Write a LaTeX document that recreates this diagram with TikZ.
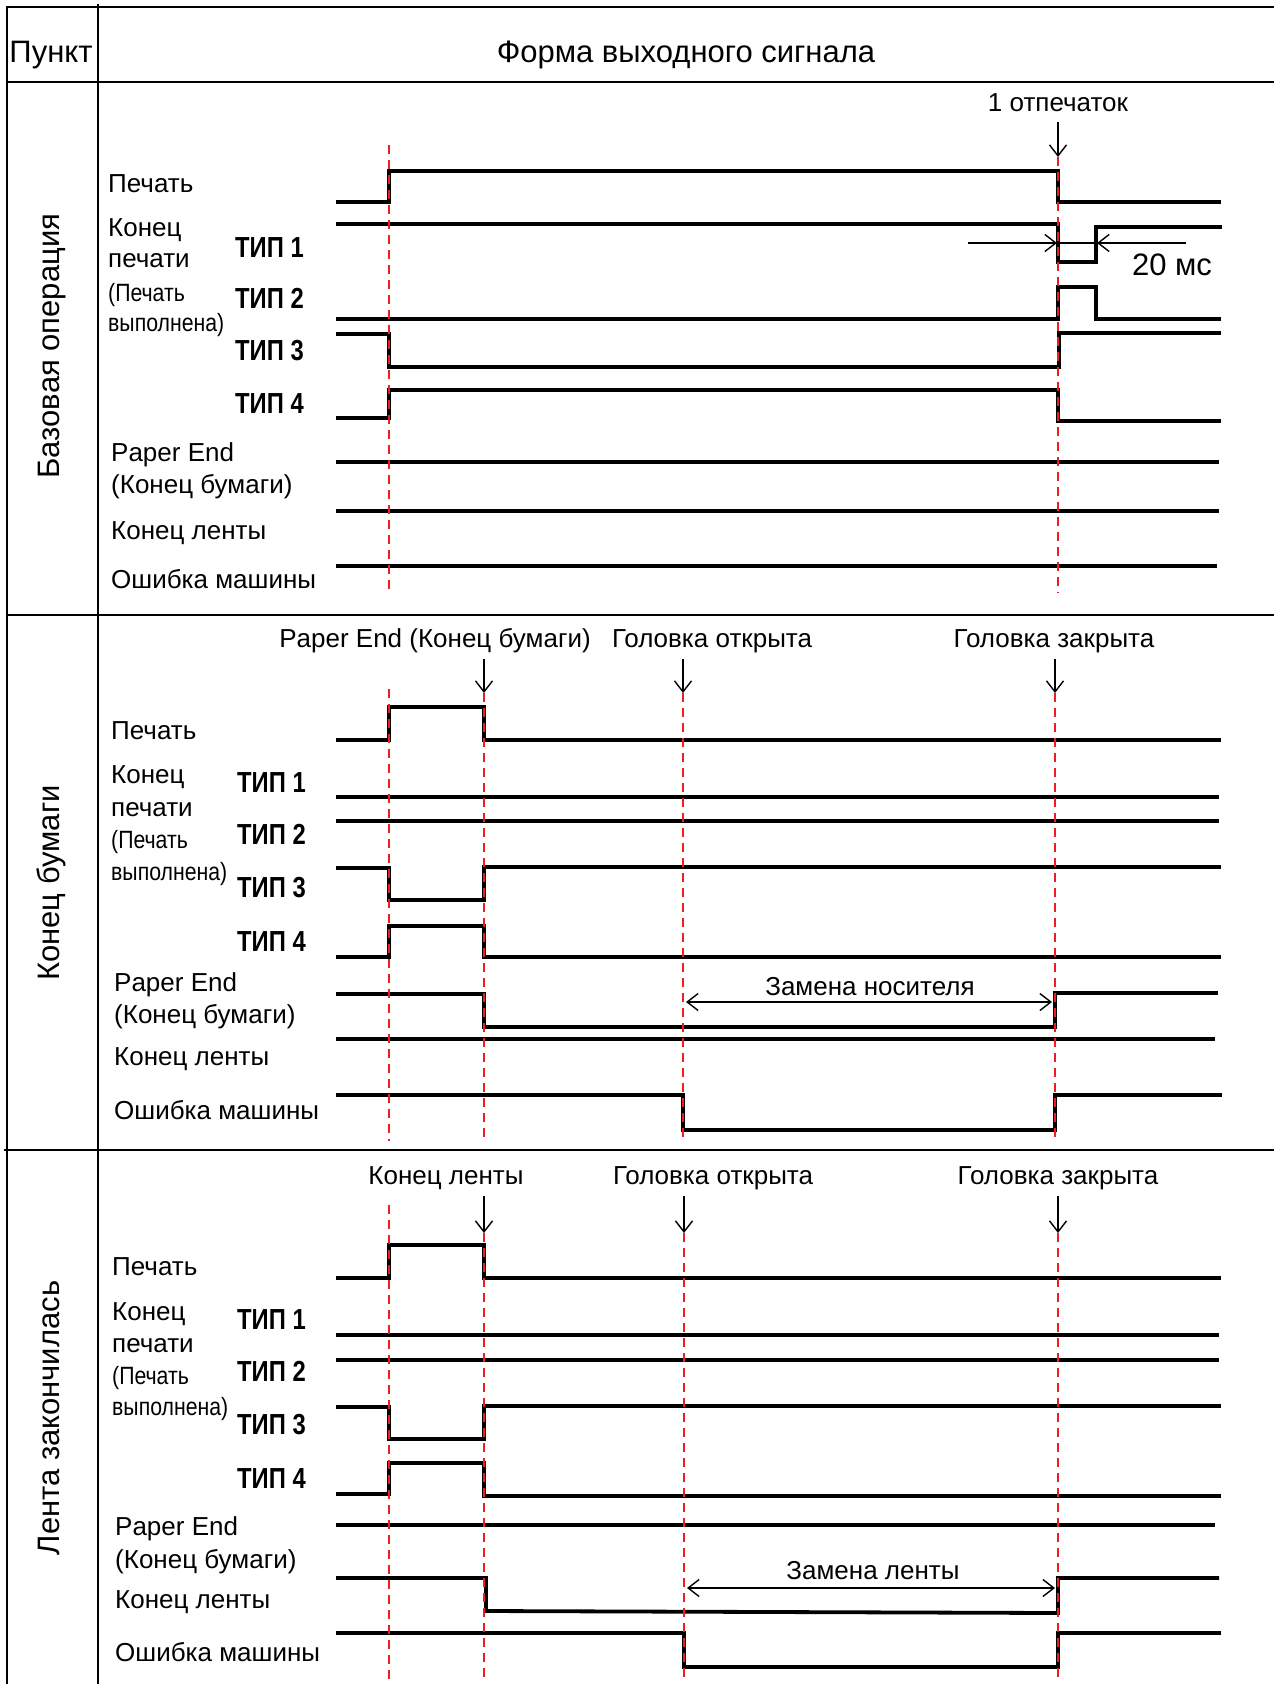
\documentclass[tikz,border=0pt]{standalone}
\usepackage{fontspec}
\setmainfont{Liberation Sans}
\newfontfamily\narrowf[FakeStretch=0.85]{Liberation Sans}
\newfontfamily\tipf[FakeStretch=0.82]{Liberation Sans}
\usetikzlibrary{arrows.meta}
\definecolor{dred}{HTML}{EE1C25}
\begin{document}
\begin{tikzpicture}[x=1pt,y=-1pt,
  frame/.style={line width=1.6pt},
  sig/.style={line width=3.8pt,line join=miter},
  redline/.style={draw=dred,line width=2pt,dash pattern=on 9pt off 6pt},
  ann/.style={line width=1.4pt,-{Straight Barb[length=11pt,width=17pt]}},
  annboth/.style={line width=1.4pt,{Straight Barb[length=11pt,width=17pt]}-{Straight Barb[length=11pt,width=17pt]}},
  lbl/.style={anchor=west,inner sep=0pt,text height=18.6pt,text depth=0pt,font=\fontsize{26}{30}\selectfont},
  nlbl/.style={anchor=west,inner sep=0pt,text height=18pt,text depth=0pt,font=\narrowf\fontsize{25}{30}\selectfont},
  tiplbl/.style={anchor=west,inner sep=0pt,text height=20.8pt,text depth=0pt,font=\tipf\bfseries\fontsize{29}{30}\selectfont},
  toplbl/.style={anchor=center,inner sep=0pt,text height=18.6pt,text depth=0pt,font=\fontsize{26}{30}\selectfont},
  bigtxt/.style={anchor=center,inner sep=0pt,text height=22pt,text depth=0pt,font=\fontsize{31}{34}\selectfont},
  sect/.style={bigtxt,rotate=90}
]
\useasboundingbox (0,0) rectangle (1274,1684);

% ---------- table frame ----------
\draw[frame] (7,1684) -- (7,7) -- (1274,7);
\draw[frame] (98,4) -- (98,1684);
\draw[frame] (7,82) -- (1274,82);
\draw[frame] (7,615) -- (1274,615);
\draw[frame] (4,1150) -- (1274,1150);

\node[bigtxt] (hItem) at (51,51) {Пункт};
\node[bigtxt] (hForm) at (686,51) {Форма выходного сигнала};

\node[sect] (s1) at (48,346) {Базовая операция};
\node[sect] (s2) at (48,883) {Конец бумаги};
\node[sect] (s3) at (48,1418) {Лента закончилась};

% ---------- section 1 labels ----------
\node[lbl] (a1) at (108,183) {Печать};
\node[lbl] (a2) at (108,227) {Конец};
\node[lbl] (a3) at (108,258) {печати};
\node[nlbl] (a4) at (108,292) {(Печать};
\node[nlbl] (a5) at (108,322) {выполнена)};
\node[tiplbl] (at1) at (235,247) {ТИП 1};
\node[tiplbl] (at2) at (235,298) {ТИП 2};
\node[tiplbl] (at3) at (235,350) {ТИП 3};
\node[tiplbl] (at4) at (235,403) {ТИП 4};
\node[lbl] (a6) at (111,452) {Paper End};
\node[lbl] (a7) at (111,484) {(Конец бумаги)};
\node[lbl] (a8) at (111,530) {Конец ленты};
\node[lbl] (a9) at (111,579) {Ошибка машины};

% ---------- section 2 labels ----------
\node[lbl] (b1) at (111,730) {Печать};
\node[lbl] (b2) at (111,774) {Конец};
\node[lbl] (b3) at (111,807) {печати};
\node[nlbl] (b4) at (111,839) {(Печать};
\node[nlbl] (b5) at (111,871) {выполнена)};
\node[tiplbl] (bt1) at (237,782) {ТИП 1};
\node[tiplbl] (bt2) at (237,834) {ТИП 2};
\node[tiplbl] (bt3) at (237,887) {ТИП 3};
\node[tiplbl] (bt4) at (237,941) {ТИП 4};
\node[lbl] (b6) at (114,982) {Paper End};
\node[lbl] (b7) at (114,1014) {(Конец бумаги)};
\node[lbl] (b8) at (114,1056) {Конец ленты};
\node[lbl] (b9) at (114,1110) {Ошибка машины};

% ---------- section 3 labels ----------
\node[lbl] (c1) at (112,1266) {Печать};
\node[lbl] (c2) at (112,1311) {Конец};
\node[lbl] (c3) at (112,1343) {печати};
\node[nlbl] (c4) at (112,1375) {(Печать};
\node[nlbl] (c5) at (112,1406) {выполнена)};
\node[tiplbl] (ct1) at (237,1319) {ТИП 1};
\node[tiplbl] (ct2) at (237,1371) {ТИП 2};
\node[tiplbl] (ct3) at (237,1424) {ТИП 3};
\node[tiplbl] (ct4) at (237,1478) {ТИП 4};
\node[lbl] (c6) at (115,1526) {Paper End};
\node[lbl] (c7) at (115,1559) {(Конец бумаги)};
\node[lbl] (c8) at (115,1599) {Конец ленты};
\node[lbl] (c9) at (115,1652) {Ошибка машины};

% ---------- section 1 signals ----------
\draw[sig] (336,202) -- (389,202) -- (389,171) -- (1058,171) -- (1058,202) -- (1221,202);
\draw[sig] (336,224) -- (1058,224) -- (1058,262) -- (1096,262) -- (1096,227) -- (1222,227);
\draw[sig] (336,319) -- (1058,319) -- (1058,287) -- (1096,287) -- (1096,319) -- (1221,319);
\draw[sig] (336,334) -- (389,334) -- (389,367) -- (1059,367) -- (1059,333) -- (1221,333);
\draw[sig] (336,418) -- (389,418) -- (389,390) -- (1058,390) -- (1058,421) -- (1221,421);
\draw[sig] (336,462) -- (1219,462);
\draw[sig] (336,511) -- (1219,511);
\draw[sig] (336,566) -- (1217,566);

% ---------- section 2 signals ----------
\draw[sig] (336,740) -- (389,740) -- (389,707) -- (484,707) -- (484,740) -- (1221,740);
\draw[sig] (336,797) -- (1219,797);
\draw[sig] (336,821) -- (1219,821);
\draw[sig] (336,868) -- (389,868) -- (389,900) -- (484,900) -- (484,867) -- (1221,867);
\draw[sig] (336,957) -- (389,957) -- (389,926) -- (484,926) -- (484,957) -- (1221,957);
\draw[sig] (336,994) -- (484,994) -- (484,1027) -- (1055,1027) -- (1055,993) -- (1218,993);
\draw[sig] (336,1039) -- (1215,1039);
\draw[sig] (336,1095) -- (683,1095) -- (683,1130) -- (1055,1130) -- (1055,1095) -- (1222,1095);

% ---------- section 3 signals ----------
\draw[sig] (336,1278) -- (389,1278) -- (389,1245) -- (484,1245) -- (484,1278) -- (1221,1278);
\draw[sig] (336,1335) -- (1219,1335);
\draw[sig] (336,1360) -- (1219,1360);
\draw[sig] (336,1407) -- (389,1407) -- (389,1439) -- (484,1439) -- (484,1406) -- (1221,1406);
\draw[sig] (336,1494) -- (389,1494) -- (389,1463) -- (484,1463) -- (484,1496) -- (1221,1496);
\draw[sig] (336,1525) -- (1215,1525);
\draw[sig] (336,1578) -- (486,1578) -- (486,1611) -- (1058,1613) -- (1058,1578) -- (1219,1578);
\draw[sig] (336,1633) -- (684,1633) -- (684,1667) -- (1058,1667) -- (1058,1633) -- (1221,1633);

% ---------- red markers ----------
\draw[redline] (389,145) -- (389,593);
\draw[redline] (1058,157) -- (1058,593);
\draw[redline] (389,689) -- (389,1141);
\draw[redline] (484,693) -- (484,1141);
\draw[redline] (683,693) -- (683,1141);
\draw[redline] (1055,693) -- (1055,1141);
\draw[redline] (389,1205) -- (389,1679);
\draw[redline] (484,1233) -- (484,1679);
\draw[redline] (684,1233) -- (684,1679);
\draw[redline] (1058,1233) -- (1058,1679);

% ---------- annotations section 1 ----------
\node[toplbl] (n1) at (1058,102) {1 отпечаток};
\coordinate (p1s) at (1058,122);
\coordinate (p1e) at (1058,157);
\draw[ann] (p1s) -- (p1e);
\coordinate (m1a) at (968,243);
\coordinate (m1b) at (1057,243);
\coordinate (m1c) at (1186,243);
\coordinate (m1d) at (1097,243);
\draw[ann] (m1a) -- (m1b);
\draw[line width=1.4pt] (m1b) -- (m1d);
\draw[ann] (m1c) -- (m1d);
\node[bigtxt] (ms) at (1172,264) {20 мс};

% ---------- annotations section 2 ----------
\node[toplbl] (n2a) at (435,638) {Paper End (Конец бумаги)};
\node[toplbl] (n2b) at (712,638) {Головка открыта};
\node[toplbl] (n2c) at (1054,638) {Головка закрыта};
\coordinate (q1s) at (484,659); \coordinate (q1e) at (484,693);
\coordinate (q2s) at (683,659); \coordinate (q2e) at (683,693);
\coordinate (q3s) at (1055,659); \coordinate (q3e) at (1055,693);
\draw[ann] (q1s) -- (q1e);
\draw[ann] (q2s) -- (q2e);
\draw[ann] (q3s) -- (q3e);
\node[toplbl] (z2) at (870,986) {Замена носителя};
\coordinate (z2a) at (686,1002);
\coordinate (z2b) at (1052,1002);
\draw[annboth] (z2a) -- (z2b);

% ---------- annotations section 3 ----------
\node[toplbl] (n3a) at (446,1175) {Конец ленты};
\node[toplbl] (n3b) at (713,1175) {Головка открыта};
\node[toplbl] (n3c) at (1058,1175) {Головка закрыта};
\coordinate (r1s) at (484,1196); \coordinate (r1e) at (484,1233);
\coordinate (r2s) at (684,1196); \coordinate (r2e) at (684,1233);
\coordinate (r3s) at (1058,1196); \coordinate (r3e) at (1058,1233);
\draw[ann] (r1s) -- (r1e);
\draw[ann] (r2s) -- (r2e);
\draw[ann] (r3s) -- (r3e);
\node[toplbl] (z3) at (873,1570) {Замена ленты};
\coordinate (z3a) at (687,1588);
\coordinate (z3b) at (1055,1588);
\draw[annboth] (z3a) -- (z3b);
\end{tikzpicture}
\end{document}
